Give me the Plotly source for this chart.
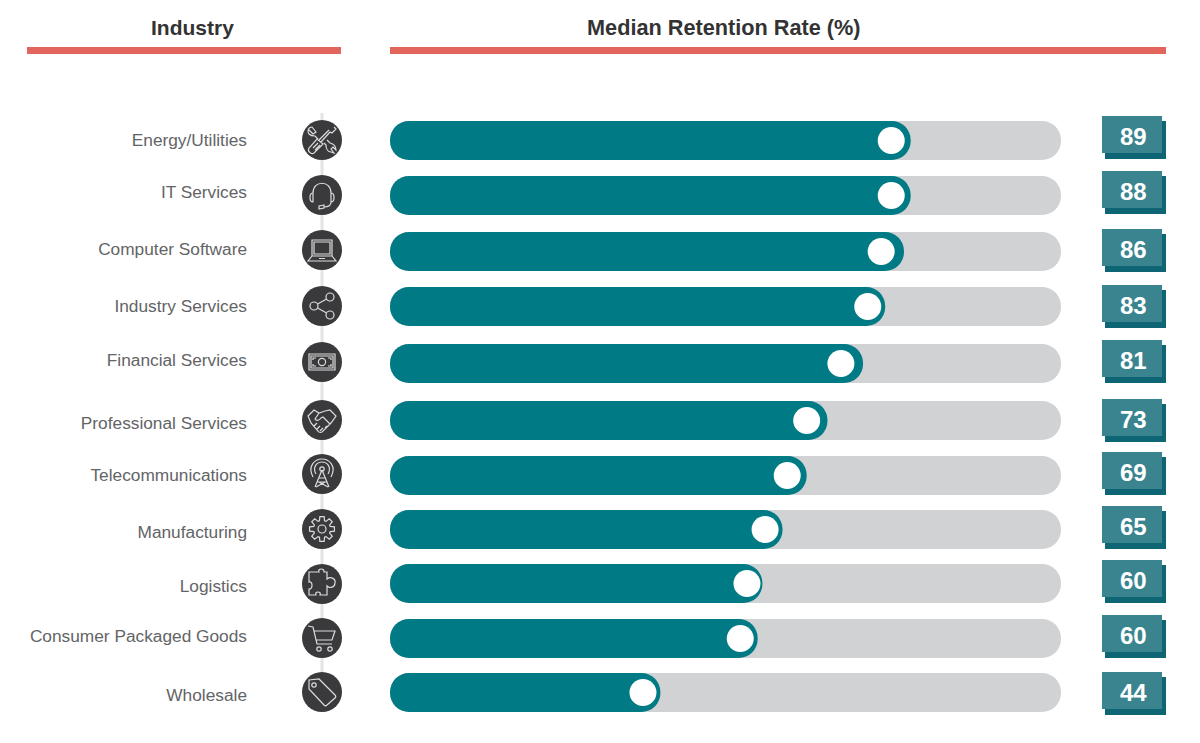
import math
import re
import plotly.graph_objects as go

# ---------- data ----------
industries = ["Energy/Utilities", "IT Services", "Computer Software", "Industry Services",
              "Financial Services", "Professional Services", "Telecommunications",
              "Manufacturing", "Logistics", "Consumer Packaged Goods", "Wholesale"]
retention = [89, 88, 86, 83, 81, 73, 69, 65, 60, 60, 44]
# length of each filled bar as drawn, as a share of the grey track
bar_fill = [77.6, 77.6, 76.6, 73.8, 70.5, 65.2, 62.1, 58.5, 55.5, 54.8, 40.3]
# where each white knob sits along the same track
knob_pos = [74.7, 74.7, 73.2, 71.2, 67.2, 62.1, 59.2, 55.9, 53.2, 52.2, 37.7]
track_full = [100] * len(industries)

headers = ["Industry", "Median Retention Rate (%)"]

# ---------- layout constants (page pixels) ----------
W, H = 1200, 743
BAR_X0, BAR_X1 = 390, 1061
PX = (BAR_X1 - BAR_X0) / 100
row_bar = [140.5, 195.5, 251.5, 306.5, 363.5, 420.5, 475.5, 529.5, 583.5, 638.5, 692.5]
row_lab = [141.5, 193.5, 250.5, 307.5, 361.5, 424.5, 476.5, 533.5, 587.5, 637.5, 696.5]
row_ico = [140, 195, 250, 306, 362, 420, 474, 529, 584, 638, 692]
row_box = [136, 191, 249, 305, 360, 419, 472, 526, 580, 635, 692]
BAR_H = 39

TEAL, TRACK, DARK, RED = "#007b85", "#d1d2d4", "#3a3a3c", "#e2655c"
BOX, BOX_SH, TXT, INK = "#3a8490", "#0e6675", "#636466", "#333333"
ICON = "#dcdcdc"
FONT = "Liberation Sans"


def shift(path, cx, cy):
    """Move a local icon path (centre 0,0) to its place on the page."""
    out, is_x = [], True
    for tok in re.findall(r"[MLCQZ]|-?\d+\.?\d*", path):
        if tok in "MLCQZ":
            out.append(tok)
        else:
            out.append(f"{float(tok) + (cx if is_x else cy):.2f}")
            is_x = not is_x
    return " ".join(out)


def circ(x, y, r):
    k = 0.5523 * r
    return (f"M {x-r} {y} C {x-r} {y-k} {x-k} {y-r} {x} {y-r} C {x+k} {y-r} {x+r} {y-k} {x+r} {y} "
            f"C {x+r} {y+k} {x+k} {y+r} {x} {y+r} C {x-k} {y+r} {x-r} {y+k} {x-r} {y} Z ")


def gear():
    pts = []
    for i in range(8):
        a = i * math.pi / 4
        for da, r in [(-0.30, 8.6), (-0.17, 12.6), (0.17, 12.6), (0.30, 8.6)]:
            pts.append((r * math.cos(a + da), r * math.sin(a + da)))
    return "M " + " L ".join(f"{x:.2f} {y:.2f}" for x, y in pts) + " Z " + circ(0, 0, 4)


icons = [
    # tools
    "M 12 -13 L 14 -11 L 10 -7 L 8 -8 L -1 2 M 7 -10 L -3 0 "
    "M -5 -1 L 1 4 L -8 13 C -11 15 -15 11 -13 8 Z M -9 8 L -4 3 M -7 10 L -2 5 "
    "M -13 -10 L -9 -6 L -6 -8 L -10 -13 C -14 -13 -15 -8 -13 -6 C -11 -4 -9 -4 -7 -4 L -4 -1 "
    "M 2 3 L 4 5 C 4 9 6 12 9 12 L 12 13 L 9 9 L 11 7 L 14 10 C 14 7 12 4 8 3 L 5 0",
    # headset
    "M -9 3 L -9 -2 C -9 -15 9 -15 9 -2 L 9 3 "
    "M -9 -2 C -13 -2 -13 7 -9 7 Z M 9 -2 C 13 -2 13 7 9 7 Z "
    "M 9 7 C 9 11 6 12 2 12 M 2 10 L -3 11 L -3 14 L 2 13 Z",
    # laptop
    "M -10 -10 L 10 -10 L 10 6 L -10 6 Z M -8 -8 L 8 -8 L 8 4 L -8 4 Z "
    "M -10 6 L -14 11 L 14 11 L 10 6 M -3 8.5 L 3 8.5",
    # share
    circ(8, -9, 4) + circ(-8, 0, 4) + circ(8, 9, 4) + "M -4.4 -2 L 4.6 -7 M -4.4 2 L 4.6 7",
    # money
    "M -13 -8 L 13 -8 L 13 8 L -13 8 Z M -11 -6 L 11 -6 L 11 6 L -11 6 Z " + circ(0, 0, 3.6) +
    "M -9 -2 L -9 -4 L -6 -4 M 9 -2 L 9 -4 L 6 -4 M -9 2 L -9 4 L -6 4 M 9 2 L 9 4 L 6 4",
    # handshake
    "M -14 -4 L -8 -10 L -3 -7 L 3 -9 L 8 -10 L 14 -4 L 9 3 L 1 11 C 0 13 -3 13 -4 11 L -11 3 Z "
    "M -3 -7 L -7 -1 C -6 1 -3 1 -1 -2 L 1 -3 L 8 4 M -8 6 L -5 3 M -5 9 L -2 6 M -2 11 L 1 8 M 3 8 L 5 6",
    # antenna
    "M 0 -4 L -7 13 M 0 -4 L 7 13 M -5 8 L 5 8 M -3.5 4 L 3.5 4 M -6 13 L 3 8 M 6 13 L -3 8 " +
    circ(0, -5, 2.2) +
    "M -6 0 C -10 -7 -5 -12 0 -12 C 5 -12 10 -7 6 0 "
    "M -9 3 C -15 -8 -7 -15 0 -15 C 7 -15 15 -8 9 3",
    # gear
    gear(),
    # puzzle
    "M -13 -12 L -3 -12 C -5 -16 3 -16 2 -12 L 5 -12 L 5 -5 C 9 -8 14 -5 13 -1 C 13 3 8 5 5 2 "
    "L 5 11 L -2 11 C 0 7 -8 7 -6 11 L -13 11 L -13 5 C -9 5 -9 -3 -13 -2 Z",
    # cart
    "M -14 -12 L -9 -11 L -5 6 L 10 6 M -8 -7 L 13 -7 L 10 2 L -6 2 " +
    circ(-3, 11, 2.2) + circ(8, 11, 2.2),
    # tag
    "M -13 -12 L -3 -13 L 13 3 C 14 4 14 5 13 6 L 5 13 C 4 14 3 14 2 13 L -13 -3 Z " + circ(-8, -7, 2.2),
]

shapes = [
    dict(type="rect", xref="x2", yref="y", x0=27, x1=341, y0=47, y1=54, fillcolor=RED, line_width=0),
    dict(type="rect", xref="x2", yref="y", x0=390, x1=1166, y0=47, y1=54, fillcolor=RED, line_width=0),
    dict(type="line", xref="x2", yref="y", x0=322, x1=322, y0=113, y1=690,
         line=dict(color="#e4e4e5", width=3), layer="below"),
]
for cy, path in zip(row_ico, icons):
    shapes.append(dict(type="circle", xref="x2", yref="y", x0=302, x1=342, y0=cy - 20, y1=cy + 20,
                       fillcolor=DARK, line_width=0))
    shapes.append(dict(type="path", xref="x2", yref="y", path=shift(path, 322, cy),
                       line=dict(color=ICON, width=1.2)))
for cy in row_box:
    shapes.append(dict(type="rect", xref="x2", yref="y", x0=1105, x1=1166, y0=cy - 15, y1=cy + 23,
                       fillcolor=BOX_SH, line_width=0))
    shapes.append(dict(type="rect", xref="x2", yref="y", x0=1102, x1=1162, y0=cy - 20, y1=cy + 17,
                       fillcolor=BOX, line_width=0))

annotations = [
    dict(xref="x2", yref="y", x=192, y=27, text=f"<b>{headers[0]}</b>", showarrow=False,
         font=dict(family=FONT, size=21, color=INK)),
    dict(xref="x2", yref="y", x=723.5, y=27, text=f"<b>{headers[1]}</b>", showarrow=False,
         font=dict(family=FONT, size=21.7, color=INK)),
]
for v, cy in zip(retention, row_box):
    annotations.append(dict(xref="x2", yref="y", x=1133, y=cy, text=f"<b>{v}</b>", showarrow=False,
                            font=dict(family=FONT, size=24, color="white")))

fig = go.Figure()
fig.add_trace(go.Bar(y=row_bar, x=track_full, base=0, width=BAR_H, orientation="h",
                     marker=dict(color=TRACK, cornerradius=BAR_H / 2, line_width=0), hoverinfo="skip"))
fig.add_trace(go.Bar(y=row_bar, x=bar_fill, base=0, width=BAR_H, orientation="h",
                     marker=dict(color=TEAL, cornerradius=BAR_H / 2, line_width=0), hoverinfo="skip"))
fig.add_trace(go.Scatter(x=knob_pos, y=row_bar, mode="markers",
                         marker=dict(size=27, color="white", line_width=0), hoverinfo="skip"))
fig.add_trace(go.Scatter(x=[247] * len(industries), y=row_lab, xaxis="x2", mode="text", text=industries,
                         textposition="middle left", textfont=dict(family=FONT, size=17.3, color=TXT),
                         hoverinfo="skip"))

fig.update_layout(
    width=W, height=H, margin=dict(l=0, r=0, t=0, b=0), autosize=False,
    paper_bgcolor="white", plot_bgcolor="rgba(0,0,0,0)", showlegend=False, barmode="overlay",
    xaxis=dict(range=[-BAR_X0 / PX, (W - BAR_X0) / PX], visible=False, domain=[0, 1], fixedrange=True),
    xaxis2=dict(range=[0, W], visible=False, overlaying="x", anchor="y", fixedrange=True),
    yaxis=dict(range=[H, 0], visible=False, domain=[0, 1], fixedrange=True),
    shapes=shapes, annotations=annotations,
)
fig.write_html("out.html", post_script="document.body.style.margin='0';document.body.style.overflow='hidden';",
               config=dict(displayModeBar=False))
